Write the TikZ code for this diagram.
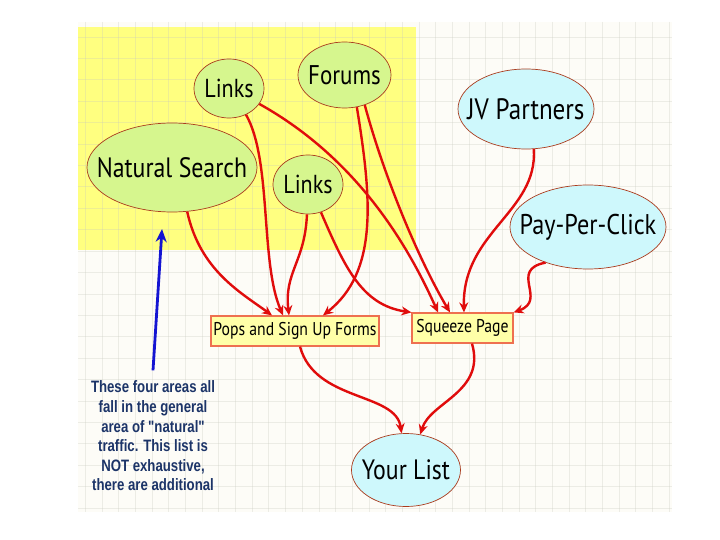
\documentclass[tikz,border=0pt]{standalone}
\usepackage{fontspec}
\usetikzlibrary{arrows.meta,shapes.geometric}
\newfontfamily\bubfont[FakeStretch=0.85]{PT Sans}
\newfontfamily\notefont[FakeStretch=0.8]{Liberation Sans}
\definecolor{paper}{RGB}{253,252,247}
\definecolor{padyellow}{RGB}{255,255,128}
\definecolor{gridgray}{RGB}{200,200,190}
\definecolor{bubgreen}{RGB}{214,246,142}
\definecolor{bubblue}{RGB}{206,248,252}
\definecolor{bubedge}{RGB}{170,60,30}
\definecolor{boxfill}{RGB}{255,255,168}
\definecolor{boxedge}{RGB}{238,112,80}
\definecolor{linkred}{RGB}{224,12,12}
\definecolor{pointblue}{RGB}{20,20,210}
\definecolor{notenavy}{RGB}{28,52,104}
\newcommand\bubtext[1]{\makebox[0pt]{#1}}

\begin{document}
\begin{tikzpicture}[x=1pt,y=-1pt,
  gridline/.style={gridgray,line width=0.6pt,opacity=0.3},
  greenbub/.style={ellipse,draw=bubedge,fill=bubgreen,line width=0.7pt,inner sep=0pt},
  bluebub/.style={ellipse,draw=bubedge,fill=bubblue,line width=0.7pt,inner sep=0pt},
  formbox/.style={rectangle,draw=boxedge,fill=boxfill,line width=1.2pt,inner sep=0pt,
    minimum height=30pt,font=\bubfont\fontsize{18.5}{20}\selectfont},
  link/.style={draw=linkred,line width=2.4pt,-{Stealth[length=10pt,width=9pt]}},
  pointer/.style={draw=pointblue,line width=2.8pt,-{Stealth[length=13pt,width=11pt]}}]
\useasboundingbox (0,0) rectangle (720,540);
\fill[white] (0,0) rectangle (720,540);
\fill[paper] (78,22) rectangle (672,512);
\fill[padyellow] (78,27) rectangle (416,250);
% grid
\foreach \i in {0,...,35}
  \draw[gridline] ({85.3+\i*16.68},22) -- ({85.3+\i*16.68},512);
\foreach \j in {0,...,22}
  \draw[gridline] (78,{37+\j*21.4}) -- (672,{37+\j*21.4});

% sources
\node[greenbub,minimum width=70pt,minimum height=59pt,font=\bubfont\fontsize{26}{28}\selectfont] (linksa) at (229,88.5) {\bubtext{Links}};
\node[greenbub,minimum width=93pt,minimum height=66pt,font=\bubfont\fontsize{27}{29}\selectfont] (forums) at (344.5,75) {\bubtext{Forums}};
\node[greenbub,minimum width=170pt,minimum height=89pt,font=\bubfont\fontsize{28}{30}\selectfont] (search) at (172,167.5) {\bubtext{Natural Search}};
\node[greenbub,minimum width=70pt,minimum height=59pt,font=\bubfont\fontsize{26}{28}\selectfont] (linksb) at (308,184.5) {\bubtext{Links}};
\node[bluebub,minimum width=136pt,minimum height=80pt,font=\bubfont\fontsize{29.5}{31}\selectfont] (jv) at (526,109) {\bubtext{JV Partners}};
\node[bluebub,minimum width=156pt,minimum height=84pt,font=\bubfont\fontsize{28.5}{30}\selectfont] (ppc) at (588,227) {\bubtext{Pay-Per-Click}};

% pages
\node[formbox,minimum width=168pt] (pops) at (295,331) {Pops and Sign Up Forms};
\node[formbox,minimum width=101pt] (squeeze) at (462.5,328) {Squeeze Page};
\node[bluebub,minimum width=109pt,minimum height=73pt,font=\bubfont\fontsize{28}{30}\selectfont] (list) at (406,470) {\bubtext{Your List}};

% note
\node[font=\notefont\bfseries\fontsize{16.5}{19.6}\selectfont,text=notenavy,align=center] (note) at (153,436)
  {These four areas all\\fall in the general\\area of "natural"\\traffic. This list is\\NOT exhaustive,\\there are additional};
\coordinate (aim) at (162,229);

% into pops
\draw[link] (search.-71) .. controls (200,270) and (240,292) .. ([xshift=-23pt]pops.north);
\draw[link] (linksa.-57) .. controls (272,160) and (260,262) .. ([xshift=-12pt]pops.north);
\draw[link] (linksb.-92) .. controls (305,262) and (284,272) .. ([xshift=-6pt]pops.north);
\draw[link] (forums.-69) .. controls (372,200) and (378,272) .. ([xshift=28pt]pops.north);
% into squeeze
\draw[link] (linksa.-27) .. controls (360,160) and (410,250) .. ([xshift=-24.5pt]squeeze.north);
\draw[link] (forums.-56) .. controls (385,180) and (420,262) .. ([xshift=-12.5pt]squeeze.north);
\draw[link] (linksb.-65) .. controls (345,268) and (362,305) .. (squeeze.north west);
\draw[link] (jv.-79) .. controls (538,212) and (462,232) .. ([xshift=1.5pt]squeeze.north);
\draw[link] (ppc.-140) .. controls (508,270) and (548,300) .. (squeeze.north east);
% into list
\draw[link] ([xshift=5pt]pops.south) .. controls (315,402) and (396,392) .. (list.97);
\draw[link] ([xshift=9.5pt]squeeze.south) .. controls (486,392) and (430,402) .. (list.68);

\draw[pointer] ([yshift=7pt]note.north) -- (aim);
\end{tikzpicture}
\end{document}
